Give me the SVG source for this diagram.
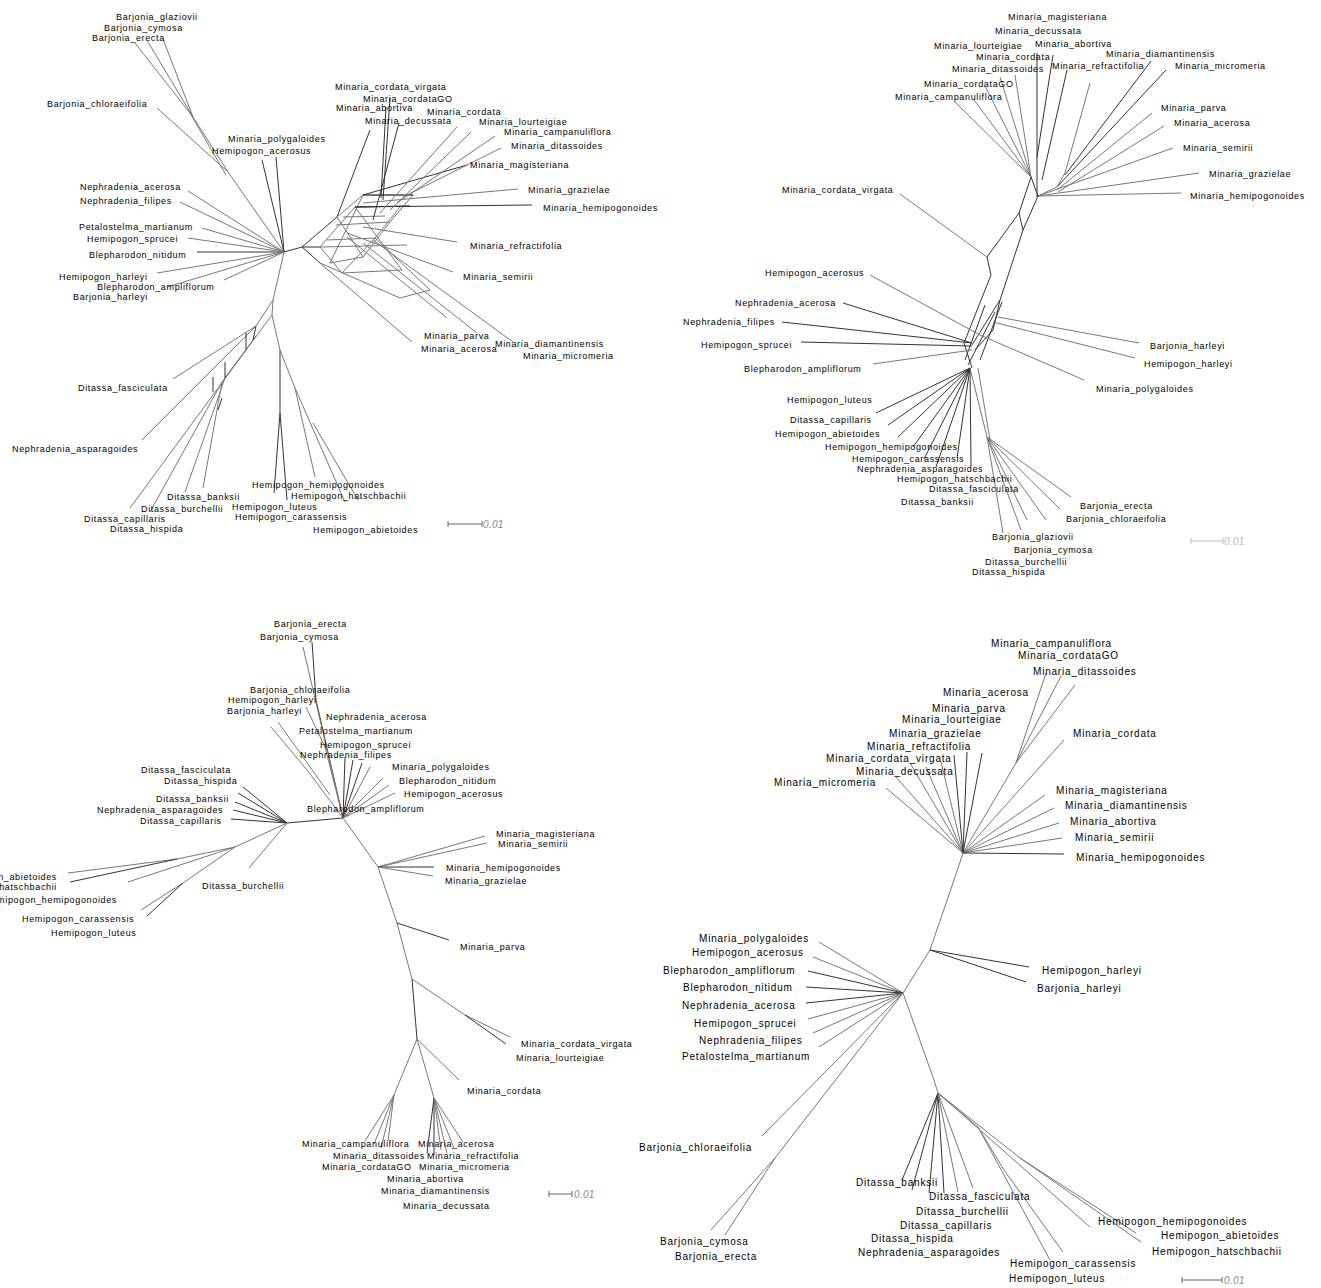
<svg xmlns="http://www.w3.org/2000/svg" width="1321" height="1288" viewBox="0 0 1321 1288">
<style>
text{font-family:"Liberation Sans",Arial,sans-serif;font-size:9px;letter-spacing:0.65px;fill:#000}
.big text{font-size:10px;letter-spacing:0.8px}
.c path{fill:none;stroke:#333;stroke-width:1}
.c path.g{stroke:#777}
.sb{fill:none;stroke:#666;stroke-width:1}
.sbt{font-style:italic;fill:#888;letter-spacing:0.3px;font-size:10px}
</style>
<rect width="1321" height="1288" fill="#fff"/>

<!-- ================= PANEL 1 (top-left) ================= -->
<g id="panel1">
<g id="p1-connectors" class="c">
<path class="g" d="M157,108 L228,172 L284,252 M135,43 L193,117 L228,172 M148,42 L193,117 M163,39 L193,117 M190,113 L226,175"/>
<path d="M262,160 L284,252 M276,157 L284,252 M197,252 L284,252"/>
<path class="g" d="M188,191 L284,252 M180,202 L284,252 M202,228 L284,252 M188,238 L284,252 M157,273 L284,252 M167,287 L284,252 M224,280 L284,252"/>
<path d="M284,252 L302,247"/>
<path class="g" d="M284,252 L273,300 L272,315 L280,350"/>
<path d="M280,350 L280,413 L274,493 M280,413 L287,500"/>
<path class="g" d="M280,350 L295,388 L315,477 M295,388 L345,502 M313,423 L358,500"/>
<path class="g" d="M273,300 L256,326 L173,379 M256,326 L142,440 M272,315 L246,350 L130,508 M246,350 L222,382 L150,512 M256,336 L225,378 L185,492 M222,382 L203,488"/>
<path d="M256,326 L253,340 M246,333 L246,350 M225,362 L225,378 M213,377 L213,392 M222,398 L218,410"/>
<!-- Minaria network -->
<path d="M302,247 L337,217 L370,130 M302,247 L320,247 M302,247 L320,263"/>
<path class="g" d="M320,263 L412,342 M337,217 L363,195 L413,195 M320,247 L355,207 L410,206 M343,217 L385,216 M336,225 L390,222 M320,247 L407,245 M327,240 L375,238 M330,263 L363,257 M342,273 L402,270 M400,298 L430,290 M330,263 L363,195 M342,273 L375,238 L400,207 M363,257 L390,222 L413,195 M320,247 L342,273 M337,217 L363,257 M355,207 L402,270 M375,238 L430,290 M320,263 L400,298"/>
<path d="M390,98 L383,200 M386,107 L381,198 M399,123 L373,220 M467,165 L363,195 M532,205 L355,207 M363,195 L413,195 M355,207 L410,206"/>
<path class="g" d="M457,127 L380,213 M471,132 L390,210 M495,136 L397,203 M501,148 L403,197 M518,189 L363,203 M457,242 L363,227 M453,272 L347,233 M447,318 L347,237 M477,333 L363,243 M513,342 L373,240"/>
</g>
<g id="p1-Barjonia_glaziovii"><text x="116" y="20">Barjonia_glaziovii</text></g>
<g id="p1-Barjonia_cymosa"><text x="104" y="31">Barjonia_cymosa</text></g>
<g id="p1-Barjonia_erecta"><text x="92" y="41">Barjonia_erecta</text></g>
<g id="p1-Barjonia_chloraeifolia"><text x="47" y="107">Barjonia_chloraeifolia</text></g>
<g id="p1-Minaria_polygaloides"><text x="228" y="142">Minaria_polygaloides</text></g>
<g id="p1-Hemipogon_acerosus"><text x="212" y="154">Hemipogon_acerosus</text></g>
<g id="p1-Nephradenia_acerosa"><text x="80" y="190">Nephradenia_acerosa</text></g>
<g id="p1-Nephradenia_filipes"><text x="80" y="204">Nephradenia_filipes</text></g>
<g id="p1-Petalostelma_martianum"><text x="79" y="230">Petalostelma_martianum</text></g>
<g id="p1-Hemipogon_sprucei"><text x="87" y="242">Hemipogon_sprucei</text></g>
<g id="p1-Blepharodon_nitidum"><text x="89" y="258">Blepharodon_nitidum</text></g>
<g id="p1-Hemipogon_harleyi"><text x="59" y="280">Hemipogon_harleyi</text></g>
<g id="p1-Blepharodon_ampliflorum"><text x="97" y="290">Blepharodon_ampliflorum</text></g>
<g id="p1-Barjonia_harleyi"><text x="73" y="300">Barjonia_harleyi</text></g>
<g id="p1-Minaria_cordata_virgata"><text x="335" y="90">Minaria_cordata_virgata</text></g>
<g id="p1-Minaria_cordataGO"><text x="363" y="102">Minaria_cordataGO</text></g>
<g id="p1-Minaria_abortiva"><text x="336" y="111">Minaria_abortiva</text></g>
<g id="p1-Minaria_cordata"><text x="427" y="115">Minaria_cordata</text></g>
<g id="p1-Minaria_decussata"><text x="365" y="124">Minaria_decussata</text></g>
<g id="p1-Minaria_lourteigiae"><text x="479" y="125">Minaria_lourteigiae</text></g>
<g id="p1-Minaria_campanuliflora"><text x="504" y="135">Minaria_campanuliflora</text></g>
<g id="p1-Minaria_ditassoides"><text x="511" y="149">Minaria_ditassoides</text></g>
<g id="p1-Minaria_magisteriana"><text x="470" y="168">Minaria_magisteriana</text></g>
<g id="p1-Minaria_grazielae"><text x="528" y="193">Minaria_grazielae</text></g>
<g id="p1-Minaria_hemipogonoides"><text x="543" y="211">Minaria_hemipogonoides</text></g>
<g id="p1-Minaria_refractifolia"><text x="470" y="249">Minaria_refractifolia</text></g>
<g id="p1-Minaria_semirii"><text x="463" y="280">Minaria_semirii</text></g>
<g id="p1-Minaria_parva"><text x="424" y="339">Minaria_parva</text></g>
<g id="p1-Minaria_acerosa"><text x="421" y="352">Minaria_acerosa</text></g>
<g id="p1-Minaria_diamantinensis"><text x="495" y="347">Minaria_diamantinensis</text></g>
<g id="p1-Minaria_micromeria"><text x="523" y="359">Minaria_micromeria</text></g>
<g id="p1-Ditassa_fasciculata"><text x="78" y="391">Ditassa_fasciculata</text></g>
<g id="p1-Nephradenia_asparagoides"><text x="12" y="452">Nephradenia_asparagoides</text></g>
<g id="p1-Hemipogon_hemipogonoides"><text x="252" y="488">Hemipogon_hemipogonoides</text></g>
<g id="p1-Hemipogon_hatschbachii"><text x="291" y="499">Hemipogon_hatschbachii</text></g>
<g id="p1-Hemipogon_luteus"><text x="232" y="510">Hemipogon_luteus</text></g>
<g id="p1-Hemipogon_carassensis"><text x="235" y="520">Hemipogon_carassensis</text></g>
<g id="p1-Hemipogon_abietoides"><text x="313" y="533">Hemipogon_abietoides</text></g>
<g id="p1-Ditassa_banksii"><text x="167" y="500">Ditassa_banksii</text></g>
<g id="p1-Ditassa_burchellii"><text x="141" y="512">Ditassa_burchellii</text></g>
<g id="p1-Ditassa_capillaris"><text x="84" y="522">Ditassa_capillaris</text></g>
<g id="p1-Ditassa_hispida"><text x="110" y="532">Ditassa_hispida</text></g>
<g id="p1-scale"><path class="sb" d="M448,521 L448,527 M448,524 L482,524 M482,521 L482,527"/><text class="sbt" x="483" y="528">0.01</text></g>
</g>

<!-- ================= PANEL 2 (top-right) ================= -->
<g id="panel2">
<g id="p2-connectors" class="c">
<path class="g" d="M955,102 L1031,177 M974,100 L1031,177 M985,86 L1031,177 M1000,77 L1031,177 M1015,75 L1031,177"/>
<path d="M1037,53 L1037,197 M1053,55 L1037,157 M1067,70 L1042,180 M1151,61 L1065,175 M1166,70 L1057,187"/>
<path class="g" d="M1090,83 L1065,173 L1057,187 M1152,113 L1057,190 M1164,126 L1058,192 M1057,187 L1038,196 M1173,148 L1038,196 M1199,173 L1038,196 M1181,193 L1038,196"/>
<path d="M1031,177 L1019,213 L987,257 L991,275 L964,343 M1038,196 L1023,230 L1000,300 M1019,213 L1023,230 M1031,177 L1038,196"/>
<path class="g" d="M900,194 L987,257"/>
<path d="M1000,300 L972,345 M1000,300 L993,330 L975,350 M985,305 L965,360 M995,312 L968,365 M964,343 L972,368 M1002,302 L980,360"/>
<path class="g" d="M870,275 L980,335 L1084,380"/>
<path d="M843,303 L972,343 M782,322 L972,343 M801,342 L972,346"/>
<path class="g" d="M873,364 L972,350 M1139,343 L998,317 M1135,358 L993,322"/>
<path d="M876,413 L970,368 M888,425 L970,368 M898,437 L970,368 M913,447 L970,368 M924,459 L970,368 M936,467 L970,368 M957,458 L970,368 M971,465 L970,368"/>
<path class="g" d="M970,368 L987,437 M978,368 L990,440"/>
<path class="g" d="M987,437 L1071,497 M987,437 L1060,509 M987,437 L1046,520 M987,437 L1027,520 M987,437 L1021,530 M987,437 L1003,533"/>
</g>
<g id="p2-Minaria_magisteriana"><text x="1008" y="20">Minaria_magisteriana</text></g>
<g id="p2-Minaria_decussata"><text x="995" y="34">Minaria_decussata</text></g>
<g id="p2-Minaria_lourteigiae"><text x="934" y="49">Minaria_lourteigiae</text></g>
<g id="p2-Minaria_abortiva"><text x="1035" y="47">Minaria_abortiva</text></g>
<g id="p2-Minaria_cordata"><text x="976" y="60">Minaria_cordata</text></g>
<g id="p2-Minaria_diamantinensis"><text x="1106" y="57">Minaria_diamantinensis</text></g>
<g id="p2-Minaria_ditassoides"><text x="952" y="72">Minaria_ditassoides</text></g>
<g id="p2-Minaria_refractifolia"><text x="1052" y="69">Minaria_refractifolia</text></g>
<g id="p2-Minaria_micromeria"><text x="1175" y="69">Minaria_micromeria</text></g>
<g id="p2-Minaria_cordataGO"><text x="924" y="87">Minaria_cordataGO</text></g>
<g id="p2-Minaria_campanuliflora"><text x="895" y="100">Minaria_campanuliflora</text></g>
<g id="p2-Minaria_parva"><text x="1161" y="111">Minaria_parva</text></g>
<g id="p2-Minaria_acerosa"><text x="1174" y="126">Minaria_acerosa</text></g>
<g id="p2-Minaria_semirii"><text x="1183" y="151">Minaria_semirii</text></g>
<g id="p2-Minaria_grazielae"><text x="1209" y="177">Minaria_grazielae</text></g>
<g id="p2-Minaria_hemipogonoides"><text x="1190" y="199">Minaria_hemipogonoides</text></g>
<g id="p2-Minaria_cordata_virgata"><text x="782" y="193">Minaria_cordata_virgata</text></g>
<g id="p2-Hemipogon_acerosus"><text x="765" y="276">Hemipogon_acerosus</text></g>
<g id="p2-Nephradenia_acerosa"><text x="735" y="306">Nephradenia_acerosa</text></g>
<g id="p2-Nephradenia_filipes"><text x="683" y="325">Nephradenia_filipes</text></g>
<g id="p2-Hemipogon_sprucei"><text x="701" y="348">Hemipogon_sprucei</text></g>
<g id="p2-Blepharodon_ampliflorum"><text x="744" y="372">Blepharodon_ampliflorum</text></g>
<g id="p2-Hemipogon_luteus"><text x="787" y="403">Hemipogon_luteus</text></g>
<g id="p2-Barjonia_harleyi"><text x="1150" y="349">Barjonia_harleyi</text></g>
<g id="p2-Hemipogon_harleyi"><text x="1144" y="367">Hemipogon_harleyi</text></g>
<g id="p2-Minaria_polygaloides"><text x="1096" y="392">Minaria_polygaloides</text></g>
<g id="p2-Ditassa_capillaris"><text x="790" y="423">Ditassa_capillaris</text></g>
<g id="p2-Hemipogon_abietoides"><text x="775" y="437">Hemipogon_abietoides</text></g>
<g id="p2-Hemipogon_hemipogonoides"><text x="825" y="450">Hemipogon_hemipogonoides</text></g>
<g id="p2-Hemipogon_carassensis"><text x="852" y="462">Hemipogon_carassensis</text></g>
<g id="p2-Nephradenia_asparagoides"><text x="857" y="472">Nephradenia_asparagoides</text></g>
<g id="p2-Hemipogon_hatschbachii"><text x="897" y="482">Hemipogon_hatschbachii</text></g>
<g id="p2-Ditassa_fasciculata"><text x="929" y="492">Ditassa_fasciculata</text></g>
<g id="p2-Ditassa_banksii"><text x="901" y="505">Ditassa_banksii</text></g>
<g id="p2-Barjonia_erecta"><text x="1080" y="509">Barjonia_erecta</text></g>
<g id="p2-Barjonia_chloraeifolia"><text x="1066" y="522">Barjonia_chloraeifolia</text></g>
<g id="p2-Barjonia_glaziovii"><text x="992" y="540">Barjonia_glaziovii</text></g>
<g id="p2-Barjonia_cymosa"><text x="1014" y="553">Barjonia_cymosa</text></g>
<g id="p2-Ditassa_burchellii"><text x="985" y="565">Ditassa_burchellii</text></g>
<g id="p2-Ditassa_hispida"><text x="972" y="575">Ditassa_hispida</text></g>
<g id="p2-scale"><path class="sb" style="stroke:#bbb" d="M1191,538 L1191,544 M1191,541 L1223,541 M1223,538 L1223,544"/><text class="sbt" style="fill:#bbb" x="1224" y="545">0.01</text></g>
</g>

<!-- ================= PANEL 3 (bottom-left) ================= -->
<g id="panel3">
<g id="p3-connectors" class="c">
<path d="M287,823 L343,818"/>
<path d="M312,642 L316,700 L343,818"/>
<path class="g" d="M303,647 L343,818 M271,727 L307,770 L343,818 M278,722 L330,795 M306,707 L325,747 L343,818"/>
<path d="M345,757 L343,818 M353,760 L343,818 M362,763 L343,818"/>
<path class="g" d="M370,767 L343,818 M383,778 L343,818 M389,785 L343,818 M395,793 L343,818"/>
<path class="g" d="M343,818 L378,867 L397,923 L412,979"/>
<path d="M412,979 L417,1039"/>
<path class="g" d="M378,867 L485,836 M378,867 L487,843"/>
<path d="M378,867 L434,867"/>
<path class="g" d="M378,867 L433,876"/>
<path d="M397,923 L449,940"/>
<path class="g" d="M412,979 L465,1015 L510,1037"/>
<path d="M465,1015 L506,1044"/>
<path class="g" d="M417,1039 L459,1080 M417,1039 L394,1095 M417,1039 L434,1098"/>
<path class="g" d="M394,1095 L365,1141 M394,1095 L374,1144 M394,1095 L381,1148 M394,1095 L388,1141"/>
<path d="M434,1098 L427,1153 M434,1098 L434,1155"/>
<path class="g" d="M434,1098 L441,1150 M434,1098 L447,1153 M434,1098 L454,1148 M434,1098 L463,1142"/>
<path d="M287,823 L243,787 M287,823 L238,793 M287,823 L235,802 M287,823 L233,810 M287,823 L231,819"/>
<path class="g" d="M287,823 L249,868 M287,823 L235,847 L177,859 L68,873"/>
<path d="M177,859 L70,882"/>
<path class="g" d="M235,847 L128,882 M235,847 L183,883 L141,910"/>
<path d="M183,883 L147,916"/>
</g>
<g id="p3-Barjonia_erecta"><text x="274" y="627">Barjonia_erecta</text></g>
<g id="p3-Barjonia_cymosa"><text x="260" y="640">Barjonia_cymosa</text></g>
<g id="p3-Barjonia_chloraeifolia"><text x="250" y="693">Barjonia_chloraeifolia</text></g>
<g id="p3-Hemipogon_harleyi"><text x="228" y="703">Hemipogon_harleyi</text></g>
<g id="p3-Barjonia_harleyi"><text x="227" y="714">Barjonia_harleyi</text></g>
<g id="p3-Nephradenia_acerosa"><text x="326" y="720">Nephradenia_acerosa</text></g>
<g id="p3-Petalostelma_martianum"><text x="299" y="734">Petalostelma_martianum</text></g>
<g id="p3-Hemipogon_sprucei"><text x="320" y="748">Hemipogon_sprucei</text></g>
<g id="p3-Nephradenia_filipes"><text x="300" y="758">Nephradenia_filipes</text></g>
<g id="p3-Minaria_polygaloides"><text x="392" y="770">Minaria_polygaloides</text></g>
<g id="p3-Blepharodon_nitidum"><text x="399" y="784">Blepharodon_nitidum</text></g>
<g id="p3-Hemipogon_acerosus"><text x="404" y="797">Hemipogon_acerosus</text></g>
<g id="p3-Blepharodon_ampliflorum"><text x="307" y="812">Blepharodon_ampliflorum</text></g>
<g id="p3-Minaria_magisteriana"><text x="496" y="837">Minaria_magisteriana</text></g>
<g id="p3-Minaria_semirii"><text x="498" y="847">Minaria_semirii</text></g>
<g id="p3-Minaria_hemipogonoides"><text x="446" y="871">Minaria_hemipogonoides</text></g>
<g id="p3-Minaria_grazielae"><text x="445" y="884">Minaria_grazielae</text></g>
<g id="p3-Ditassa_fasciculata"><text x="141" y="773">Ditassa_fasciculata</text></g>
<g id="p3-Ditassa_hispida"><text x="164" y="784">Ditassa_hispida</text></g>
<g id="p3-Ditassa_banksii"><text x="156" y="802">Ditassa_banksii</text></g>
<g id="p3-Nephradenia_asparagoides"><text x="97" y="813">Nephradenia_asparagoides</text></g>
<g id="p3-Ditassa_capillaris"><text x="140" y="824">Ditassa_capillaris</text></g>
<g id="p3-Hemipogon_abietoides"><text x="57" y="880" text-anchor="end">Hemipogon_abietoides</text></g>
<g id="p3-Hemipogon_hatschbachii"><text x="57" y="890" text-anchor="end">Hemipogon_hatschbachii</text></g>
<g id="p3-Hemipogon_hemipogonoides"><text x="117" y="903" text-anchor="end">Hemipogon_hemipogonoides</text></g>
<g id="p3-Hemipogon_carassensis"><text x="22" y="922">Hemipogon_carassensis</text></g>
<g id="p3-Hemipogon_luteus"><text x="51" y="936">Hemipogon_luteus</text></g>
<g id="p3-Ditassa_burchellii"><text x="202" y="889">Ditassa_burchellii</text></g>
<g id="p3-Minaria_parva"><text x="460" y="950">Minaria_parva</text></g>
<g id="p3-Minaria_cordata_virgata"><text x="521" y="1047">Minaria_cordata_virgata</text></g>
<g id="p3-Minaria_lourteigiae"><text x="516" y="1061">Minaria_lourteigiae</text></g>
<g id="p3-Minaria_cordata"><text x="467" y="1094">Minaria_cordata</text></g>
<g id="p3-Minaria_campanuliflora"><text x="302" y="1147">Minaria_campanuliflora</text></g>
<g id="p3-Minaria_acerosa"><text x="418" y="1147">Minaria_acerosa</text></g>
<g id="p3-Minaria_ditassoides"><text x="333" y="1159">Minaria_ditassoides</text></g>
<g id="p3-Minaria_refractifolia"><text x="427" y="1159">Minaria_refractifolia</text></g>
<g id="p3-Minaria_cordataGO"><text x="322" y="1170">Minaria_cordataGO</text></g>
<g id="p3-Minaria_micromeria"><text x="419" y="1170">Minaria_micromeria</text></g>
<g id="p3-Minaria_abortiva"><text x="387" y="1182">Minaria_abortiva</text></g>
<g id="p3-Minaria_diamantinensis"><text x="381" y="1194">Minaria_diamantinensis</text></g>
<g id="p3-Minaria_decussata"><text x="403" y="1209">Minaria_decussata</text></g>
<g id="p3-scale"><path class="sb" d="M549,1191 L549,1197 M549,1194 L572,1194 M572,1191 L572,1197"/><text class="sbt" x="574" y="1198">0.01</text></g>
</g>

<!-- ================= PANEL 4 (bottom-right) ================= -->
<g id="panel4" class="big">
<g id="p4-connectors" class="c">
<path class="g" d="M1046,673 L1016,763 M1061,676 L1016,763 M1075,685 L1016,763 M1016,763 L963,853 M1064,740 L963,853"/>
<path class="g" d="M886,788 L963,853 M896,777 L963,853 M910,763 L963,853 M926,767 L963,853 M941,762 L963,853"/>
<path d="M954,755 L963,853 M967,752 L963,853 M982,753 L963,853"/>
<path class="g" d="M1045,795 L963,853 M1054,808 L963,853 M1059,823 L963,853 M1062,838 L963,853"/>
<path d="M1064,854 L963,853"/>
<path class="g" d="M963,853 L954,880 L930,950 L903,993"/>
<path d="M930,950 L1029,967 M930,950 L1026,982"/>
<path class="g" d="M903,993 L819,942 M903,993 L813,957"/>
<path d="M903,993 L808,971 M903,993 L806,987 M903,993 L806,1003"/>
<path class="g" d="M903,993 L808,1019 M903,993 L813,1033 M903,993 L819,1047"/>
<path class="g" d="M903,993 L762,1136 M903,993 L775,1158 L711,1230 M775,1158 L725,1235"/>
<path class="g" d="M903,993 L934,1080 L938,1093"/>
<path d="M938,1093 L902,1180 M938,1093 L912,1190 M938,1093 L929,1193 M938,1093 L944,1193"/>
<path class="g" d="M938,1093 L958,1192 M938,1093 L973,1188"/>
<path class="g" d="M938,1093 L978,1127 L1050,1260 M978,1127 L1004,1170 L1063,1252 M938,1093 L1020,1158 L1141,1242 M1020,1158 L1136,1233 M938,1093 L1090,1227"/>
</g>
<g id="p4-Minaria_campanuliflora"><text x="991" y="647">Minaria_campanuliflora</text></g>
<g id="p4-Minaria_cordataGO"><text x="1018" y="659">Minaria_cordataGO</text></g>
<g id="p4-Minaria_ditassoides"><text x="1033" y="675">Minaria_ditassoides</text></g>
<g id="p4-Minaria_acerosa"><text x="943" y="696">Minaria_acerosa</text></g>
<g id="p4-Minaria_parva"><text x="932" y="712">Minaria_parva</text></g>
<g id="p4-Minaria_lourteigiae"><text x="902" y="723">Minaria_lourteigiae</text></g>
<g id="p4-Minaria_grazielae"><text x="889" y="737">Minaria_grazielae</text></g>
<g id="p4-Minaria_refractifolia"><text x="867" y="750">Minaria_refractifolia</text></g>
<g id="p4-Minaria_cordata_virgata"><text x="826" y="762">Minaria_cordata_virgata</text></g>
<g id="p4-Minaria_decussata"><text x="856" y="775">Minaria_decussata</text></g>
<g id="p4-Minaria_micromeria"><text x="774" y="786">Minaria_micromeria</text></g>
<g id="p4-Minaria_cordata"><text x="1073" y="737">Minaria_cordata</text></g>
<g id="p4-Minaria_magisteriana"><text x="1056" y="794">Minaria_magisteriana</text></g>
<g id="p4-Minaria_diamantinensis"><text x="1065" y="809">Minaria_diamantinensis</text></g>
<g id="p4-Minaria_abortiva"><text x="1070" y="825">Minaria_abortiva</text></g>
<g id="p4-Minaria_semirii"><text x="1075" y="841">Minaria_semirii</text></g>
<g id="p4-Minaria_hemipogonoides"><text x="1076" y="861">Minaria_hemipogonoides</text></g>
<g id="p4-Minaria_polygaloides"><text x="699" y="942">Minaria_polygaloides</text></g>
<g id="p4-Hemipogon_acerosus"><text x="692" y="956">Hemipogon_acerosus</text></g>
<g id="p4-Blepharodon_ampliflorum"><text x="663" y="974">Blepharodon_ampliflorum</text></g>
<g id="p4-Blepharodon_nitidum"><text x="683" y="991">Blepharodon_nitidum</text></g>
<g id="p4-Nephradenia_acerosa"><text x="682" y="1009">Nephradenia_acerosa</text></g>
<g id="p4-Hemipogon_sprucei"><text x="694" y="1027">Hemipogon_sprucei</text></g>
<g id="p4-Nephradenia_filipes"><text x="699" y="1044">Nephradenia_filipes</text></g>
<g id="p4-Petalostelma_martianum"><text x="682" y="1060">Petalostelma_martianum</text></g>
<g id="p4-Hemipogon_harleyi"><text x="1042" y="974">Hemipogon_harleyi</text></g>
<g id="p4-Barjonia_harleyi"><text x="1037" y="992">Barjonia_harleyi</text></g>
<g id="p4-Barjonia_chloraeifolia"><text x="639" y="1151">Barjonia_chloraeifolia</text></g>
<g id="p4-Barjonia_cymosa"><text x="660" y="1245">Barjonia_cymosa</text></g>
<g id="p4-Barjonia_erecta"><text x="675" y="1260">Barjonia_erecta</text></g>
<g id="p4-Ditassa_banksii"><text x="856" y="1186">Ditassa_banksii</text></g>
<g id="p4-Ditassa_fasciculata"><text x="929" y="1200">Ditassa_fasciculata</text></g>
<g id="p4-Ditassa_burchellii"><text x="916" y="1215">Ditassa_burchellii</text></g>
<g id="p4-Ditassa_capillaris"><text x="900" y="1229">Ditassa_capillaris</text></g>
<g id="p4-Ditassa_hispida"><text x="871" y="1242">Ditassa_hispida</text></g>
<g id="p4-Nephradenia_asparagoides"><text x="858" y="1256">Nephradenia_asparagoides</text></g>
<g id="p4-Hemipogon_hemipogonoides"><text x="1098" y="1225">Hemipogon_hemipogonoides</text></g>
<g id="p4-Hemipogon_abietoides"><text x="1161" y="1239">Hemipogon_abietoides</text></g>
<g id="p4-Hemipogon_hatschbachii"><text x="1152" y="1255">Hemipogon_hatschbachii</text></g>
<g id="p4-Hemipogon_carassensis"><text x="1010" y="1267">Hemipogon_carassensis</text></g>
<g id="p4-Hemipogon_luteus"><text x="1009" y="1282">Hemipogon_luteus</text></g>
<g id="p4-scale"><path class="sb" d="M1182,1277 L1182,1283 M1182,1280 L1222,1280 M1222,1277 L1222,1283"/><text class="sbt" x="1224" y="1284" style="letter-spacing:0.3px">0.01</text></g>
</g>
</svg>
